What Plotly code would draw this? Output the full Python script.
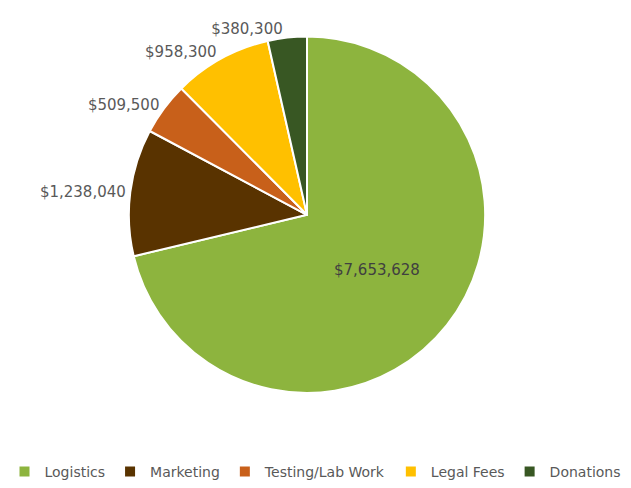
import plotly.graph_objects as go

# Budget breakdown by category
categories = ["Logistics", "Marketing", "Testing/Lab Work", "Legal Fees", "Donations"]
amounts = [7653628, 1238040, 509500, 958300, 380300]
colors = ["#8DB43E", "#593300", "#C8601A", "#FFC000", "#385723"]
label_pos = ["inside", "outside", "outside", "outside", "outside"]

W, H = 631, 488
cx, cy, r = 307, 217, 180
FONT = "DejaVu Sans, Liberation Sans, Arial"

fig = go.Figure(
    go.Pie(
        labels=categories,
        values=amounts,
        sort=False,
        direction="clockwise",
        rotation=0,
        marker=dict(colors=colors, line=dict(color="white", width=2)),
        texttemplate="$%{value:,.0f}",
        textposition=label_pos,
        insidetextorientation="horizontal",
        outsidetextfont=dict(family=FONT, size=15, color="#595959"),
        insidetextfont=dict(family=FONT, size=15, color="#404040"),
        domain=dict(x=[(cx - r) / W, (cx + r) / W], y=[1 - (cy + r) / H, 1 - (cy - r) / H]),
        hoverinfo="label+value+percent",
    )
)

fig.update_layout(
    width=W,
    height=H,
    margin=dict(l=0, r=0, t=0, b=0),
    paper_bgcolor="white",
    plot_bgcolor="white",
    font=dict(family=FONT, color="#595959", size=14),
    legend=dict(
        orientation="h",
        x=0.5,
        xanchor="center",
        y=11 / H,
        yanchor="middle",
        font=dict(family=FONT, size=14, color="#595959"),
        itemwidth=30,
        tracegroupgap=0,
    ),
)

fig.write_html("out.html")
